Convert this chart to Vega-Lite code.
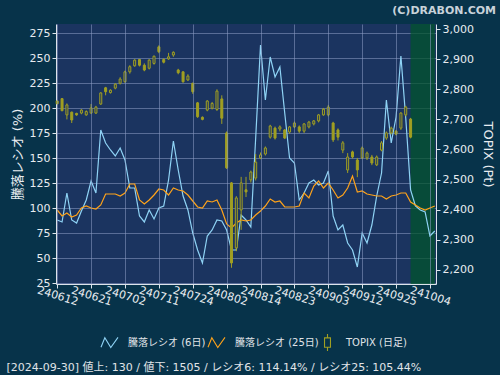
{
  "$schema": "https://vega.github.io/schema/vega-lite/v6.json",
  "width": 380,
  "height": 260,
  "autosize": {"type": "none"},
  "padding": {"left": 56, "top": 24, "right": 64, "bottom": 91},
  "background": "#07334a",
  "config": {
    "view": {"fill": "#1b3460", "stroke": null},
    "font": "DejaVu Sans, Noto Sans CJK JP",
    "axis": {
      "labelColor": "#e8ecf0",
      "labelFont": "DejaVu Sans",
      "labelFontSize": 11,
      "domainColor": "#dde3ea",
      "tickColor": "#dde3ea",
      "gridColor": "#8d9cc4",
      "gridOpacity": 0.55,
      "titleColor": "#e8ecf0",
      "titleFontWeight": "normal",
      "titleFont": "DejaVu Sans, Noto Sans CJK JP"
    }
  },
  "title": {
    "text": "(C)DRABON.COM",
    "anchor": "end",
    "frame": "group",
    "dx": 60,
    "dy": 12,
    "offset": 10,
    "baseline": "alphabetic",
    "font": "DejaVu Sans",
    "fontSize": 11,
    "fontWeight": "bold",
    "color": "#c8d2da"
  },
  "data": {
    "values": [
      {"d": "240612", "r6": 88, "r25": 98, "o": 2761, "h": 2763, "l": 2750, "c": 2752},
      {"d": "240613", "r6": 86, "r25": 92, "o": 2769, "h": 2771, "l": 2727, "c": 2729},
      {"d": "240614", "r6": 115, "r25": 95, "o": 2715, "h": 2753, "l": 2700, "c": 2748},
      {"d": "240617", "r6": 88, "r25": 91, "o": 2724, "h": 2726, "l": 2688, "c": 2698},
      {"d": "240618", "r6": 85, "r25": 93, "o": 2720, "h": 2722, "l": 2712, "c": 2715},
      {"d": "240619", "r6": 97, "r25": 100, "o": 2721, "h": 2734, "l": 2717, "c": 2731},
      {"d": "240620", "r6": 108, "r25": 102, "o": 2715, "h": 2730, "l": 2712, "c": 2726},
      {"d": "240621", "r6": 127, "r25": 100, "o": 2721, "h": 2751, "l": 2719, "c": 2738},
      {"d": "240624", "r6": 115, "r25": 99, "o": 2721, "h": 2745, "l": 2718, "c": 2741},
      {"d": "240625", "r6": 178, "r25": 103, "o": 2751, "h": 2790, "l": 2748, "c": 2788},
      {"d": "240626", "r6": 165, "r25": 114, "o": 2805, "h": 2808, "l": 2780, "c": 2792},
      {"d": "240627", "r6": 158, "r25": 114, "o": 2789, "h": 2800, "l": 2786, "c": 2797},
      {"d": "240628", "r6": 152, "r25": 114, "o": 2804, "h": 2820, "l": 2800, "c": 2817},
      {"d": "240701", "r6": 160, "r25": 112, "o": 2820, "h": 2840, "l": 2816, "c": 2834},
      {"d": "240702", "r6": 148, "r25": 115, "o": 2825, "h": 2862, "l": 2822, "c": 2858},
      {"d": "240703", "r6": 120, "r25": 124, "o": 2858, "h": 2880, "l": 2852, "c": 2875},
      {"d": "240704", "r6": 120, "r25": 124, "o": 2878, "h": 2900, "l": 2875, "c": 2897},
      {"d": "240705", "r6": 92, "r25": 108, "o": 2899, "h": 2901, "l": 2876, "c": 2880},
      {"d": "240708", "r6": 86, "r25": 104, "o": 2880, "h": 2886, "l": 2860, "c": 2864},
      {"d": "240709", "r6": 98, "r25": 108, "o": 2870, "h": 2900, "l": 2866, "c": 2897},
      {"d": "240710", "r6": 89, "r25": 113, "o": 2886, "h": 2912, "l": 2882, "c": 2910},
      {"d": "240711", "r6": 100, "r25": 119, "o": 2941, "h": 2946, "l": 2920, "c": 2925},
      {"d": "240712", "r6": 102, "r25": 118, "o": 2899, "h": 2903, "l": 2886, "c": 2890},
      {"d": "240716", "r6": 128, "r25": 113, "o": 2901, "h": 2921, "l": 2898, "c": 2908},
      {"d": "240717", "r6": 167, "r25": 120, "o": 2914, "h": 2926, "l": 2908, "c": 2923},
      {"d": "240718", "r6": 138, "r25": 118, "o": 2864, "h": 2868, "l": 2850, "c": 2855},
      {"d": "240719", "r6": 112, "r25": 117, "o": 2858, "h": 2860, "l": 2822, "c": 2825},
      {"d": "240722", "r6": 98, "r25": 113, "o": 2831, "h": 2850, "l": 2828, "c": 2844},
      {"d": "240724", "r6": 75, "r25": 107, "o": 2820, "h": 2822, "l": 2785, "c": 2792},
      {"d": "240725", "r6": 58, "r25": 101, "o": 2755, "h": 2758, "l": 2705, "c": 2709},
      {"d": "240726", "r6": 45, "r25": 100, "o": 2707, "h": 2710, "l": 2697, "c": 2700},
      {"d": "240729", "r6": 72, "r25": 107, "o": 2731, "h": 2764, "l": 2727, "c": 2761},
      {"d": "240730", "r6": 78, "r25": 106, "o": 2737, "h": 2758, "l": 2733, "c": 2753},
      {"d": "240731", "r6": 88, "r25": 108, "o": 2733, "h": 2800, "l": 2728, "c": 2794},
      {"d": "240801", "r6": 87, "r25": 98, "o": 2768, "h": 2780, "l": 2685, "c": 2704},
      {"d": "240802", "r6": 78, "r25": 84, "o": 2655, "h": 2660, "l": 2535, "c": 2539},
      {"d": "240805", "r6": 58, "r25": 80, "o": 2489, "h": 2492, "l": 2207, "c": 2223},
      {"d": "240806", "r6": 58, "r25": 85, "o": 2273, "h": 2445, "l": 2262, "c": 2439},
      {"d": "240807", "r6": 93, "r25": 88, "o": 2399, "h": 2509, "l": 2333, "c": 2489},
      {"d": "240808", "r6": 88, "r25": 87, "o": 2466, "h": 2509, "l": 2442, "c": 2459},
      {"d": "240809", "r6": 81, "r25": 88, "o": 2499, "h": 2530, "l": 2490, "c": 2525},
      {"d": "240813", "r6": 170, "r25": 93, "o": 2505, "h": 2585, "l": 2497, "c": 2558},
      {"d": "240814", "r6": 263, "r25": 97, "o": 2572, "h": 2590, "l": 2568, "c": 2582},
      {"d": "240815", "r6": 208, "r25": 102, "o": 2585, "h": 2610, "l": 2580, "c": 2605},
      {"d": "240816", "r6": 251, "r25": 109, "o": 2641, "h": 2682, "l": 2636, "c": 2678},
      {"d": "240819", "r6": 231, "r25": 106, "o": 2671, "h": 2676, "l": 2633, "c": 2638},
      {"d": "240820", "r6": 241, "r25": 107, "o": 2668, "h": 2680, "l": 2660, "c": 2675},
      {"d": "240821", "r6": 195, "r25": 101, "o": 2665, "h": 2668, "l": 2635, "c": 2638},
      {"d": "240822", "r6": 150, "r25": 101, "o": 2658, "h": 2678, "l": 2652, "c": 2675},
      {"d": "240823", "r6": 145, "r25": 101, "o": 2675, "h": 2693, "l": 2671, "c": 2688},
      {"d": "240826", "r6": 108, "r25": 102, "o": 2675, "h": 2680, "l": 2655, "c": 2661},
      {"d": "240827", "r6": 115, "r25": 115, "o": 2661, "h": 2688, "l": 2655, "c": 2685},
      {"d": "240828", "r6": 125, "r25": 110, "o": 2675, "h": 2695, "l": 2670, "c": 2691},
      {"d": "240829", "r6": 128, "r25": 122, "o": 2685, "h": 2698, "l": 2680, "c": 2695},
      {"d": "240830", "r6": 123, "r25": 127, "o": 2695, "h": 2718, "l": 2690, "c": 2715},
      {"d": "240902", "r6": 125, "r25": 120, "o": 2715, "h": 2738, "l": 2712, "c": 2734},
      {"d": "240903", "r6": 137, "r25": 125, "o": 2715, "h": 2748, "l": 2710, "c": 2741},
      {"d": "240904", "r6": 92, "r25": 118, "o": 2688, "h": 2692, "l": 2625, "c": 2632},
      {"d": "240905", "r6": 78, "r25": 110, "o": 2665, "h": 2670, "l": 2630, "c": 2641},
      {"d": "240906", "r6": 83, "r25": 113, "o": 2598, "h": 2628, "l": 2588, "c": 2622},
      {"d": "240909", "r6": 65, "r25": 120, "o": 2532, "h": 2588, "l": 2522, "c": 2575},
      {"d": "240910", "r6": 58, "r25": 132, "o": 2592, "h": 2596, "l": 2570, "c": 2575},
      {"d": "240911", "r6": 41, "r25": 116, "o": 2565, "h": 2572, "l": 2508, "c": 2532},
      {"d": "240912", "r6": 75, "r25": 117, "o": 2572, "h": 2610, "l": 2568, "c": 2605},
      {"d": "240913", "r6": 65, "r25": 114, "o": 2572, "h": 2593, "l": 2565, "c": 2588},
      {"d": "240917", "r6": 83, "r25": 113, "o": 2575, "h": 2582, "l": 2548, "c": 2555},
      {"d": "240918", "r6": 112, "r25": 112, "o": 2549, "h": 2580, "l": 2545, "c": 2575},
      {"d": "240919", "r6": 135, "r25": 112, "o": 2598, "h": 2628, "l": 2594, "c": 2622},
      {"d": "240920", "r6": 208, "r25": 109, "o": 2638, "h": 2660, "l": 2632, "c": 2655},
      {"d": "240924", "r6": 165, "r25": 112, "o": 2655, "h": 2676, "l": 2650, "c": 2671},
      {"d": "240925", "r6": 191, "r25": 113, "o": 2661, "h": 2665, "l": 2647, "c": 2651},
      {"d": "240926", "r6": 252, "r25": 115, "o": 2671, "h": 2724, "l": 2665, "c": 2721},
      {"d": "240927", "r6": 190, "r25": 115, "o": 2715, "h": 2745, "l": 2710, "c": 2741},
      {"d": "240930", "r6": 118, "r25": 106, "o": 2701, "h": 2705, "l": 2637, "c": 2641},
      {"d": "241001", "r6": 102, "r25": 103, "o": null, "h": null, "l": null, "c": null},
      {"d": "241002", "r6": 98, "r25": 100, "o": null, "h": null, "l": null, "c": null},
      {"d": "241003", "r6": 96, "r25": 98, "o": null, "h": null, "l": null, "c": null},
      {"d": "241004", "r6": 72, "r25": 100, "o": null, "h": null, "l": null, "c": null},
      {"d": "241007", "r6": 77, "r25": 102, "o": null, "h": null, "l": null, "c": null}
    ]
  },
  "encoding": {
    "x": {
      "field": "d",
      "type": "ordinal",
      "scale": {"type": "point", "padding": 0.25},
      "axis": {
        "values": ["240612", "240621", "240702", "240711", "240724", "240802", "240814", "240823", "240903", "240912", "240925", "241004"],
        "labelAngle": 17,
        "labelAlign": "center",
        "labelBaseline": "middle",
        "labelPadding": 8,
        "tickSize": 4,
        "grid": true,
        "title": "[2024-09-30]  値上: 130 / 値下: 1505 / レシオ6: 114.14% / レシオ25: 105.44%",
        "titleX": -50,
        "titleY": 86,
        "titleAlign": "left",
        "titleAnchor": "start",
        "titleBaseline": "alphabetic",
        "titleFontSize": 11,
        "titleColor": "#e0e4e8"
      }
    }
  },
  "layer": [
    {
      "data": {"values": [{"d": "240930", "d2": "241007"}]},
      "mark": {"type": "rect", "color": "#00552a", "opacity": 0.72},
      "encoding": {
        "x2": {"field": "d2"}
      }
    },
    {
      "transform": [{"fold": ["r6", "r25"], "as": ["s", "v"]}],
      "mark": {"type": "line", "strokeWidth": 1.2},
      "encoding": {
        "y": {
          "field": "v",
          "type": "quantitative",
          "scale": {"domain": [24, 284], "nice": false, "zero": false},
          "axis": {
            "orient": "left",
            "values": [25, 50, 75, 100, 125, 150, 175, 200, 225, 250, 275],
            "grid": true,
            "tickSize": 4,
            "labelPadding": 2,
            "title": "騰落レシオ (%)",
            "titleFontSize": 13,
            "titleAngle": -90,
            "titleX": -39,
            "titleY": 130,
            "titleAlign": "center",
            "titleBaseline": "middle"
          }
        },
        "color": {
          "field": "s",
          "type": "nominal",
          "scale": {"domain": ["r6", "r25", "topix"], "range": ["#8fd3f5", "#ffa31a", "#a09f22"]},
          "legend": {
            "orient": "none",
            "legendX": 44,
            "legendY": 309,
            "direction": "horizontal",
            "gridAlign": "none",
            "title": null,
            "labelExpr": "datum.value === 'r6' ? '騰落レシオ (6日)' : datum.value === 'r25' ? '騰落レシオ (25日)' : 'TOPIX (日足)'",
            "labelColor": "#e0e4e8",
            "labelFontSize": 10,
            "labelFont": "DejaVu Sans, Noto Sans CJK JP",
            "labelLimit": 300,
            "labelOffset": 9,
            "columnPadding": -1,
            "symbolSize": 289,
            "symbolStrokeWidth": 1.1,
            "encode": {
              "symbols": {
                "update": {
                  "shape": {"signal": "datum.value === 'topix' ? 'M0,-1L0,-0.55M-0.35,-0.55L0.35,-0.55L0.35,0.55L-0.35,0.55ZM0,0.55L0,1' : 'M-1,0.55L-0.55,-0.55L0.15,0.6L1,-0.6'"},
                  "fill": {"value": "transparent"}
                }
              }
            }
          }
        }
      }
    },
    {
      "transform": [{"filter": "datum.o != null"}],
      "layer": [
        {
          "mark": {"type": "rule", "color": "#a09f22", "strokeWidth": 1},
          "encoding": {
            "y": {
              "field": "l",
              "type": "quantitative",
              "scale": {"domain": [2153, 3017], "nice": false, "zero": false},
              "axis": {
                "orient": "right",
                "values": [2200, 2300, 2400, 2500, 2600, 2700, 2800, 2900, 3000],
                "format": ",.0f",
                "grid": false,
                "tickSize": 4,
                "labelPadding": 2,
                "title": "TOPIX (Pt)",
                "titleFontSize": 13,
                "titleAngle": 90,
                "titleX": 51,
                "titleY": 130,
                "titleAlign": "center",
                "titleBaseline": "middle"
              }
            },
            "y2": {"field": "h"}
          }
        },
        {
          "mark": {"type": "bar", "width": 2, "stroke": "#a09f22", "strokeWidth": 1},
          "encoding": {
            "y": {
              "field": "o",
              "type": "quantitative",
              "scale": {"domain": [2153, 3017], "nice": false, "zero": false},
              "axis": {
                "orient": "right",
                "values": [2200, 2300, 2400, 2500, 2600, 2700, 2800, 2900, 3000],
                "format": ",.0f",
                "grid": false,
                "tickSize": 4,
                "labelPadding": 2,
                "title": "TOPIX (Pt)",
                "titleFontSize": 13,
                "titleAngle": 90,
                "titleX": 51,
                "titleY": 130,
                "titleAlign": "center",
                "titleBaseline": "middle"
              }
            },
            "y2": {"field": "c"},
            "fill": {"condition": {"test": "datum.c > datum.o", "value": "#23385a"}, "value": "#a09f22"}
          }
        }
      ]
    }
  ],
  "resolve": {"scale": {"y": "independent"}}
}
